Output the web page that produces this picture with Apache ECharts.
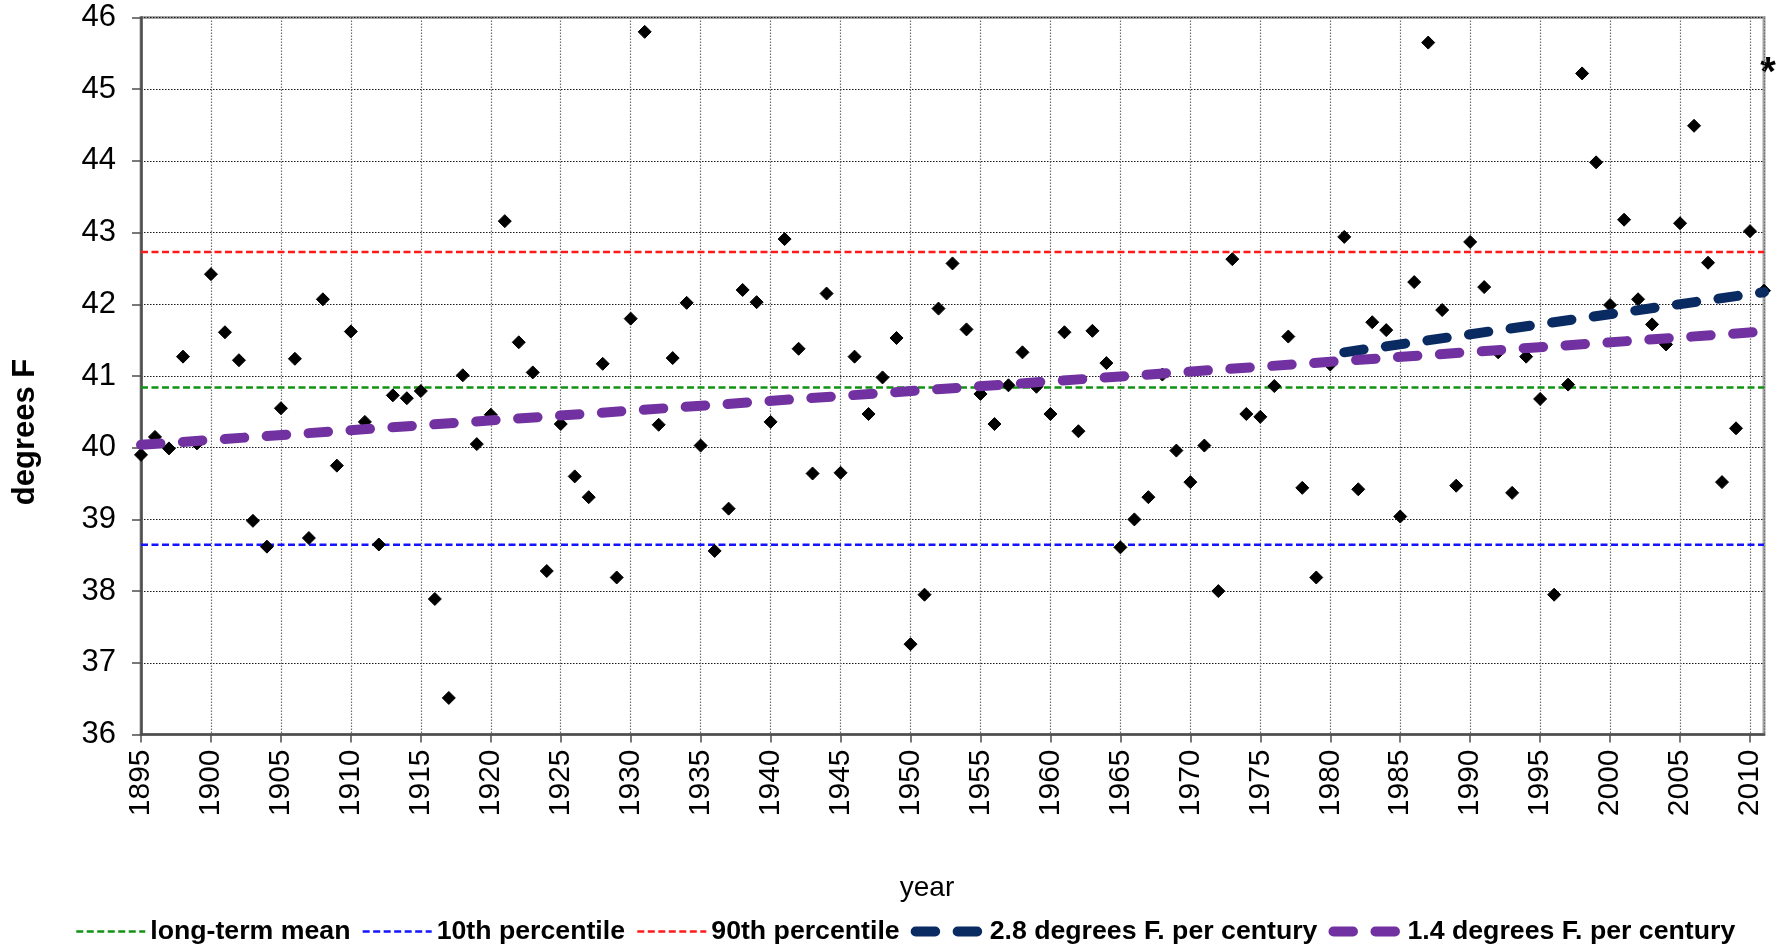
<!DOCTYPE html>
<html>
<head>
<meta charset="utf-8">
<script src="https://cdn.jsdelivr.net/npm/echarts@6/dist/echarts.min.js"></script>
<style>
  html, body { margin: 0; padding: 0; background: #fff; }
  #chart { width: 1777px; height: 950px; }
</style>
</head>
<body>
<div id="chart"></div>
<script>
// ---- data ----
const years = [
  1895, 1896, 1897, 1898, 1899, 1900, 1901, 1902, 1903, 1904,
  1905, 1906, 1907, 1908, 1909, 1910, 1911, 1912, 1913, 1914,
  1915, 1916, 1917, 1918, 1919, 1920, 1921, 1922, 1923, 1924,
  1925, 1926, 1927, 1928, 1929, 1930, 1931, 1932, 1933, 1934,
  1935, 1936, 1937, 1938, 1939, 1940, 1941, 1942, 1943, 1944,
  1945, 1946, 1947, 1948, 1949, 1950, 1951, 1952, 1953, 1954,
  1955, 1956, 1957, 1958, 1959, 1960, 1961, 1962, 1963, 1964,
  1965, 1966, 1967, 1968, 1969, 1970, 1971, 1972, 1973, 1974,
  1975, 1976, 1977, 1978, 1979, 1980, 1981, 1982, 1983, 1984,
  1985, 1986, 1987, 1988, 1989, 1990, 1991, 1992, 1993, 1994,
  1995, 1996, 1997, 1998, 1999, 2000, 2001, 2002, 2003, 2004,
  2005, 2006, 2007, 2008, 2009, 2010, 2011
];
const annualTemps = [
  39.90, 40.15, 39.99, 41.27, 40.06, 42.42, 41.61, 41.22, 38.98, 38.62,
  40.55, 41.24, 38.74, 42.07, 39.75, 41.62, 40.36, 38.65, 40.73, 40.69,
  40.79, 37.89, 36.51, 41.01, 40.05, 40.46, 43.16, 41.47, 41.05, 38.28,
  40.33, 39.60, 39.31, 41.17, 38.19, 41.80, 45.80, 40.32, 41.25, 42.02,
  40.03, 38.56, 39.15, 42.20, 42.03, 40.36, 42.91, 41.38, 39.64, 42.15,
  39.65, 41.27, 40.47, 40.98, 41.53, 37.26, 37.95, 41.94, 42.57, 41.65,
  40.75, 40.33, 40.87, 41.33, 40.85, 40.47, 41.61, 40.23, 41.63, 41.18,
  38.61, 39.00, 39.31, 41.02, 39.96, 39.52, 40.03, 38.00, 42.63, 40.47,
  40.43, 40.86, 41.55, 39.44, 38.19, 41.16, 42.94, 39.42, 41.75, 41.64,
  39.04, 42.31, 45.65, 41.92, 39.47, 42.87, 42.24, 41.33, 39.37, 41.27,
  40.68, 37.95, 40.88, 45.22, 43.98, 41.99, 43.18, 42.07, 41.72, 41.44,
  43.13, 44.49, 42.58, 39.52, 40.27, 43.02, 42.19
];
const longTermMean = 40.84;
const percentile10 = 38.645;
const percentile90 = 42.73;
const spanYears = [1895, 2011];
const trend28Years = [1981, 2011];
const trend28Values = [41.33, 42.17];
const trend14Years = [1895, 2011];
const trend14Values = [40.04, 41.62];
const yTicks = { min: 36, max: 46, step: 1 };
const xTicks = { min: 1895, max: 2011, step: 5 };
const names = {
  mean: 'long-term mean',
  p10: '10th percentile',
  p90: '90th percentile',
  t28: '2.8 degrees F. per century',
  t14: '1.4 degrees F. per century'
};

// ---- chart ----
const FONT = 'Liberation Sans, Arial, sans-serif';
const chart = echarts.init(document.getElementById('chart'), null, { renderer: 'canvas' });

const scatterData = years.map((y, i) => [y, annualTemps[i]]);
const flat = v => spanYears.map(y => [y, v]);
const pairs = (xs, vs) => xs.map((x, i) => [x, vs[i]]);

const thinDash = [7, 3.5];
const thickDash = [19.5, 22.5];
const noMarker = { opacity: 0, borderWidth: 0 };

const option = {
  animation: false,
  backgroundColor: '#ffffff',
  grid: {
    left: 141, right: 13, top: 17.5, bottom: 215.5,
    show: true, borderColor: '#a6a6a6', borderWidth: 3, backgroundColor: '#ffffff'
  },
  xAxis: {
    type: 'value', min: xTicks.min, max: xTicks.max, interval: xTicks.step,
    axisLine: { show: true, onZero: false, lineStyle: { color: '#4d4d4d', width: 2.5 } },
    axisTick: { show: true, length: 8, lineStyle: { color: '#4d4d4d', width: 1.5 } },
    axisLabel: {
      rotate: 90, margin: 15, color: '#000', fontFamily: FONT, fontSize: 30,
      showMaxLabel: false,
      formatter: v => (v % 5 === 0 ? String(v) : '')
    },
    splitLine: { show: true, lineStyle: { color: '#6e6e6e', width: 1.2, type: [1.5, 1.5] } }
  },
  yAxis: {
    type: 'value', min: yTicks.min, max: yTicks.max, interval: yTicks.step,
    axisLine: { show: true, onZero: false, lineStyle: { color: '#4d4d4d', width: 2.5 } },
    axisTick: { show: true, length: 9, lineStyle: { color: '#4d4d4d', width: 1.5 } },
    axisLabel: { margin: 25, color: '#000', fontFamily: FONT, fontSize: 31 },
    splitLine: { show: true, lineStyle: { color: '#1a1a1a', width: 1.2, type: [1.5, 1.5] } }
  },
  legend: {
    show: true,
    left: 75, top: 918, padding: 0,
    itemWidth: 69, itemHeight: 14, itemGap: 11,
    itemStyle: noMarker,
    textStyle: { fontFamily: FONT, fontSize: 26.7, fontWeight: 'bold', color: '#000' },
    data: [
      { name: names.mean, lineStyle: { width: 2.5 }, itemStyle: noMarker },
      { name: names.p10, lineStyle: { width: 2.5 }, itemStyle: noMarker },
      { name: names.p90, lineStyle: { width: 2.5 }, itemStyle: noMarker },
      { name: names.t28, lineStyle: { width: 10 }, itemStyle: noMarker },
      { name: names.t14, lineStyle: { width: 10 }, itemStyle: noMarker }
    ]
  },
  graphic: [
    {
      type: 'text', x: 927, y: 888,
      style: { text: 'year', fontFamily: FONT, fontSize: 28, fill: '#000', align: 'center', verticalAlign: 'middle' }
    },
    {
      type: 'text', x: 25, y: 432, rotation: Math.PI / 2,
      style: { text: 'degrees F', fontFamily: FONT, fontSize: 31, fontWeight: 'bold', fill: '#000', align: 'center', verticalAlign: 'middle' }
    },
    {
      type: 'text', x: 1768, y: 74,
      style: { text: '*', fontFamily: FONT, fontSize: 40, fontWeight: 'bold', fill: '#000', align: 'center', verticalAlign: 'middle' }
    }
  ],
  series: [
    {
      name: names.mean, type: 'line', data: flat(longTermMean), symbol: 'none', z: 2,
      lineStyle: { color: '#119211', width: 2.5, type: thinDash }, itemStyle: { color: '#119211' }
    },
    {
      name: names.p10, type: 'line', data: flat(percentile10), symbol: 'none', z: 2,
      lineStyle: { color: '#1414ff', width: 2.5, type: thinDash }, itemStyle: { color: '#1414ff' }
    },
    {
      name: names.p90, type: 'line', data: flat(percentile90), symbol: 'none', z: 2,
      lineStyle: { color: '#ff1a1a', width: 2.5, type: thinDash }, itemStyle: { color: '#ff1a1a' }
    },
    {
      name: 'annual', type: 'scatter', data: scatterData, z: 3,
      symbol: 'diamond', symbolSize: 13,
      itemStyle: { color: '#000', borderColor: '#000', borderWidth: 1, opacity: 1 }
    },
    {
      name: names.t28, type: 'line', data: pairs(trend28Years, trend28Values), symbol: 'none', z: 4,
      lineStyle: { color: '#0a2b62', width: 10, type: thickDash, cap: 'round' }, itemStyle: { color: '#0a2b62' }
    },
    {
      name: names.t14, type: 'line', data: pairs(trend14Years, trend14Values), symbol: 'none', z: 4,
      lineStyle: { color: '#7231a1', width: 10, type: thickDash, cap: 'round' }, itemStyle: { color: '#7231a1' }
    }
  ]
};
chart.setOption(option);
</script>
</body>
</html>
